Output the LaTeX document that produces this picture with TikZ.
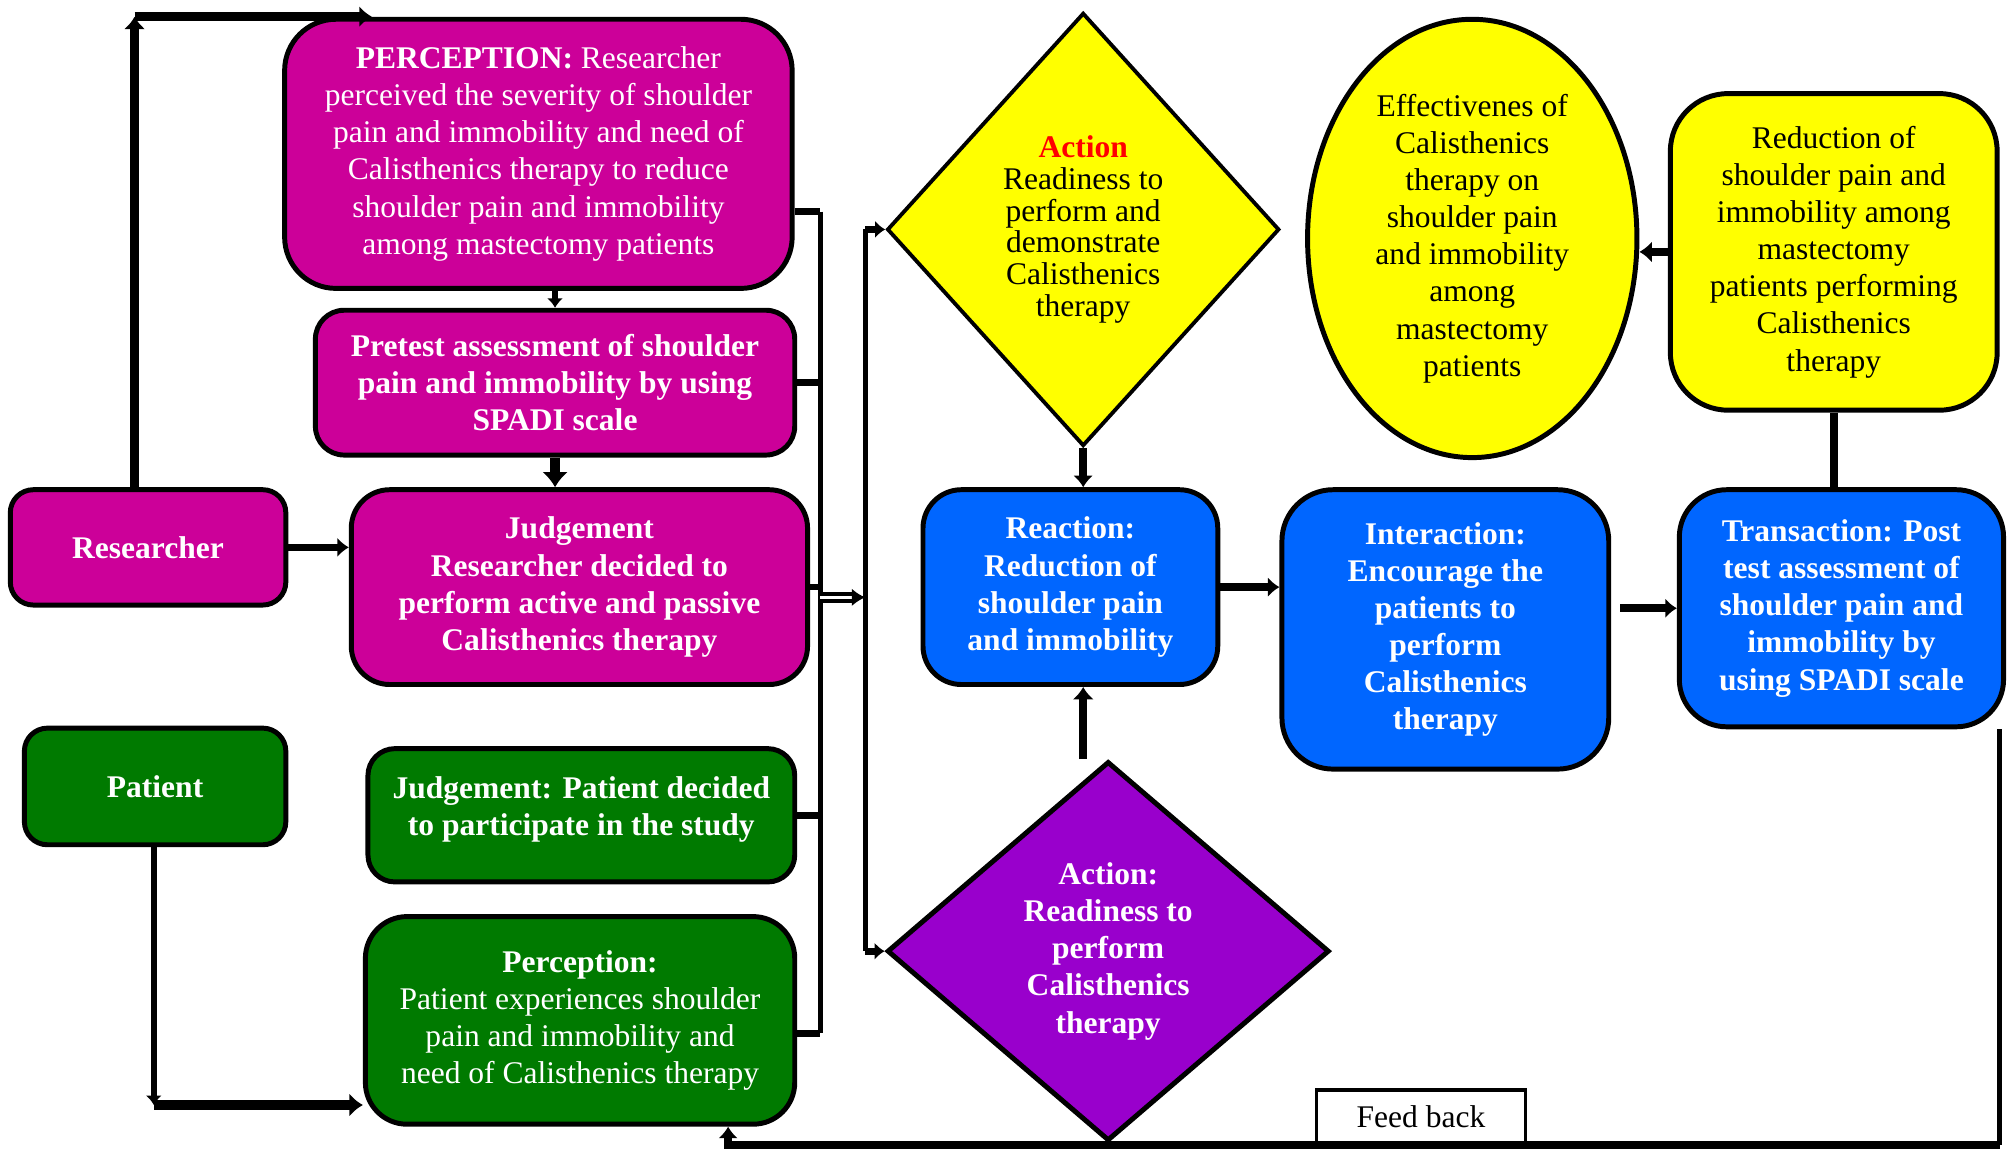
\documentclass[tikz,border=0pt]{standalone}
\usepackage{fontspec}
\setmainfont{Liberation Serif}
\usetikzlibrary{shapes.geometric,arrows.meta}
\definecolor{magR}{RGB}{204,0,153}
\definecolor{greenP}{RGB}{0,122,0}
\definecolor{blueT}{RGB}{0,102,255}
\definecolor{yellowA}{RGB}{255,255,0}
\definecolor{purpleA}{RGB}{153,0,204}
\begin{document}
\begin{tikzpicture}[x=0.02cm, y=-0.02cm, >={Latex[length=0pt 1.5, width=0pt 2.6]},
  txt/.style={align=center, inner sep=0pt, font=\fontsize{14}{16.5}\selectfont},
  rbox/.style={txt, draw, line width=2.2pt, rounded corners=#1},
  wtxt/.style={text=white, font=\bfseries\fontsize{14}{16.5}\selectfont},
  arr/.style={->, line width=3.4pt},
  stub/.style={line width=3pt},
  bus/.style={line width=2.2pt},
  dbl/.style={-{Latex[length=6pt, width=8pt]}, double, double distance=1.4pt, line width=1.8pt}]
  \useasboundingbox (0, 0) rectangle (1568, 899);
  % researcher side
  \draw(420, 120) node[rbox=0.8cm, fill=magR, text=white, minimum width=7.92cm, minimum height=4.2cm](percR)
  {\textbf{PERCEPTION:} Researcher\\perceived the severity of shoulder\\pain and immobility and need of\\Calisthenics therapy to reduce\\shoulder pain and immobility\\among  mastectomy patients};
  \draw(433, 298.5) node[rbox=0.45cm, fill=magR, wtxt, minimum width=7.48cm, minimum height=2.26cm](pretest)
  {Pretest assessment of shoulder\\pain and immobility by using\\SPADI scale};
  \draw(452, 458) node[rbox=0.6cm, fill=magR, wtxt, minimum width=7.12cm, minimum height=3.04cm](judgR)
  {Judgement\\Researcher decided to\\perform active and passive\\Calisthenics therapy};
  \draw(115.5, 427) node[rbox=0.36cm, fill=magR, wtxt, minimum width=4.3cm, minimum height=1.8cm](res) {Researcher};
  % patient side
  \draw(121, 613.5) node[rbox=0.36cm, fill=greenP, wtxt, minimum width=4.08cm, minimum height=1.82cm](pat) {Patient};
  \draw(453.5, 636) node[rbox=0.42cm, fill=greenP, wtxt, minimum width=6.66cm, minimum height=2.08cm](judgP)
  {Judgement: Patient decided\\to participate in the study\\[-8.5pt]};
  \draw(452.5, 796) node[rbox=0.65cm, fill=greenP, text=white, minimum width=6.7cm, minimum height=3.24cm](percP)
  {\textbf{Perception:}\\Patient experiences shoulder\\pain and immobility  and\\need of Calisthenics therapy};
  % action, reaction, interaction, transaction
  \draw(845, 179) node[diamond, draw, fill=yellowA, txt, line width=1.7pt, minimum width=6.12cm, minimum height=6.76cm,
  font=\fontsize{14}{14.2}\selectfont](actY)
  {\textcolor{red}{\textbf{Action}}\\Readiness to\\perform and\\demonstrate\\Calisthenics\\therapy};
  \draw(1148.5, 186) node[ellipse, draw, fill=yellowA, txt, line width=2.2pt, minimum width=5.14cm, minimum height=6.84cm](effE)
  {Effectivenes of\\Calisthenics\\therapy on\\shoulder pain\\and immobility\\among\\mastectomy\\patients};
  \draw(1430.5, 196.5) node[rbox=0.9cm, fill=yellowA, minimum width=5.1cm, minimum height=4.94cm](redY)
  {Reduction of\\shoulder pain and\\immobility among\\mastectomy\\patients performing\\Calisthenics\\therapy};
  \draw(835, 458) node[rbox=0.6cm, fill=blueT, wtxt, minimum width=4.6cm, minimum height=3.04cm](react)
  {Reaction:\\Reduction of\\shoulder pain\\and immobility};
  \draw(1127.5, 491) node[rbox=0.8cm, fill=blueT, wtxt, minimum width=5.1cm, minimum height=4.36cm](inter)
  {Interaction:\\Encourage the\\patients to\\perform\\Calisthenics\\therapy};
  \draw(1436.5, 474.5) node[rbox=0.74cm, fill=blueT, wtxt, minimum width=5.06cm, minimum height=3.7cm](trans)
  {Transaction: Post\\test assessment of\\shoulder pain and\\immobility by\\using SPADI scale};
  \draw(864.5, 742) node[diamond, draw, fill=purpleA, txt, wtxt, line width=2.2pt, minimum width=6.9cm, minimum height=5.92cm](actP)
  {Action:\\Readiness to\\perform\\Calisthenics\\therapy};
  \draw(1108.5, 871.5) node[draw, txt, line width=1.7pt, fill=white, minimum width=3.26cm, minimum height=0.86cm](fb) {Feed back};
  % connectors
  \coordinate (loopT) at (105, 13);
  \coordinate (loopE) at (290, 13);
  \draw[arr, line width=3.7pt] (loopT |- res.north) -- (loopT);
  \draw[arr, line width=3.7pt] (loopT) -- (loopE);
  \draw[arr, line width=2.8pt] (pretest.north |- percR.south) -- (pretest.north);
  \draw[arr, line width=4.5pt] (pretest.south) -- (pretest.south |- judgR.north);
  \draw[arr] (res.east) -- (res.east -| judgR.west);
  \coordinate (patC) at (120, 862);
  \draw[arr, line width=2.8pt] (pat.south -| patC) -- (patC);
  \draw[arr, line width=4pt] (patC) -- (patC -| percP.west);
  % the two bus lines
  \coordinate (b1t) at (640, 165);
  \coordinate (b1b) at (640, 806);
  \coordinate (b1) at (640, 466);
  \coordinate (b2) at (675, 466);
  \draw[bus] (b1t) -- (b1b);
  \draw[stub] (b1t -| percR.east) -- (b1t);
  \draw[stub] (pretest.east) -- (pretest.east -| b1t);
  \draw[stub] (judgR.east) -- (judgR.east -| b1t);
  \draw[stub] (judgP.east) -- (judgP.east -| b1t);
  \draw[stub] (b1b -| percP.east) -- (b1b);
  \draw[dbl] (b1) -- (b2);
  \draw[bus] (b2 |- actY.west) -- (b2 |- actP.west);
  \draw[arr, line width=3pt] (b2 |- actY.west) -- (actY.west);
  \draw[arr, line width=3pt] (b2 |- actP.west) -- (actP.west);
  \draw[arr] (actY.south) -- (actY.south |- react.north);
  \draw[arr, line width=3.7pt] (actY.south |- actP.north) -- (actY.south |- react.south);
  \draw[arr] (react.east) -- (react.east -| inter.west);
  \draw[arr, shorten <=0.14cm] (trans.west -| inter.east) -- (trans.west);
  \draw[line width=3.4pt] (redY.south) -- (redY.south |- trans.north);
  \draw[arr, line width=3.7pt] (redY.west) -- (redY.west -| effE.east);
  % feed back
  \coordinate (fbR) at (1560, 893);
  \coordinate (fbL) at (568, 893);
  \draw[bus] (trans.south -| fbR) -- (fbR);
  \draw[arr] (fbR) -- (fbL) -- (fbL |- percP.south);
\end{tikzpicture}
\end{document}
